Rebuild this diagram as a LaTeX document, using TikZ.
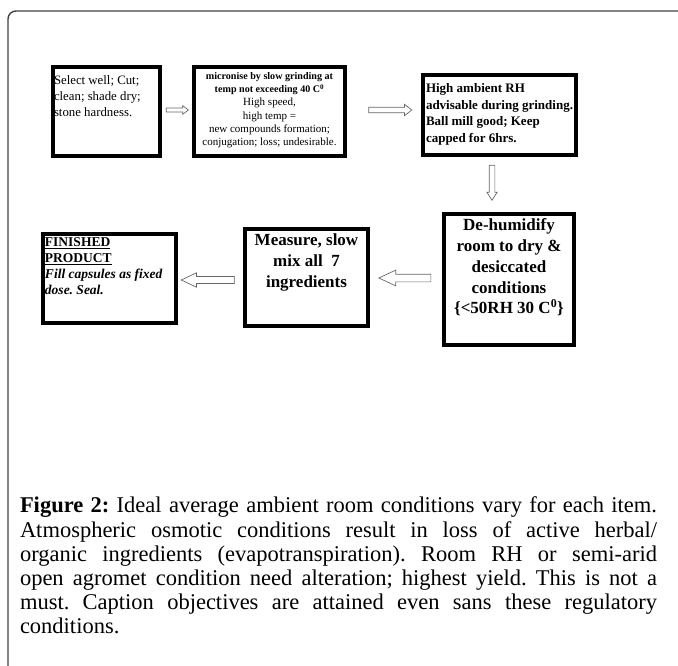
\documentclass[tikz,border=0pt]{standalone}
\usepackage{fontspec}
\setmainfont{Liberation Serif}
\usetikzlibrary{shapes.arrows}
\newcommand{\fsz}[2]{\fontsize{#1}{#2}\selectfont}
\newcommand{\capline}[1]{\hbox to 637pt{#1}}
\frenchspacing
\tikzset{
  box/.style={draw, line width=4pt, inner sep=0pt, outer sep=0pt, fill=white},
  txt/.style={inner sep=0pt, outer sep=0pt},
  barrow/.style={single arrow, draw=black!60, line width=0.7pt, fill=white,
                 inner sep=#1, outer sep=0pt},
  frame/.style={draw=black!75, line width=1.4pt, rounded corners=8pt}
}
\begin{document}
\begin{tikzpicture}[x=1pt,y=-1pt]
\useasboundingbox (0,0) rectangle (678,666);
\clip (0,0) rectangle (678,666);
\draw[frame] (8,11) rectangle (720,720);

% boxes
\node[box, minimum width=107pt, minimum height=89pt] (b1) at (106.5,111.5) {};
\node[box, minimum width=151pt, minimum height=89pt] (b2) at (269.5,111.5) {};
\node[box, minimum width=153pt, minimum height=80pt] (b3) at (499.5,115) {};
\node[box, minimum width=130pt, minimum height=131pt] (b4) at (509,279.5) {};
\node[box, minimum width=123pt, minimum height=97pt] (b5) at (306.5,277.5) {};
\node[box, minimum width=133pt, minimum height=89pt] (b6) at (109.5,278.5) {};

% texts
\node[txt, anchor=north west, align=left, font=\fsz{12.8}{16}] (t1) at (54,75.5)
  {Select well; Cut;\\clean; shade dry;\\stone hardness.};
\node[txt, anchor=north, align=center, font=\fsz{11}{13.2}] (t2) at (269.5,72.5)
  {{\fontsize{10.1}{13.2}\selectfont\bfseries micronise by slow grinding at}\\{\fontsize{10.1}{13.2}\selectfont\bfseries temp not exceeding 40 C\textsuperscript{0}}\\High speed,\\high temp =\\new compounds formation;\\conjugation; loss; undesirable.};
\node[txt, anchor=north west, align=left, font=\fsz{13}{16.7}\bfseries] (t3) at (426,83.5)
  {High ambient RH\\advisable during grinding.\\Ball mill good; Keep\\capped for 6hrs.};
\node[txt, anchor=north, align=center, font=\fsz{17}{20.7}\bfseries] (t4) at (509,219)
  {De-humidify\\room to dry \&\\desiccated\\conditions\\\{<50RH 30 C\textsuperscript{0}\}};
\node[txt, anchor=north, align=center, font=\fsz{17}{21}\bfseries] (t5) at (306.5,234)
  {Measure, slow\\mix all~~7\\ingredients};
\node[txt, anchor=north west, align=left, font=\fsz{13.5}{16}\bfseries] (t6) at (45,237.5)
  {\underline{FINISHED}\\\underline{PRODUCT}\\\textit{Fill capsules as fixed}\\\textit{dose. Seal.}};

% block arrows
\node[barrow=1.7pt, single arrow head extend=2.3pt, single arrow tip angle=75,
      minimum height=22pt] (a1) at (176,110) {};
\node[barrow=2.4pt, single arrow head extend=3pt, single arrow tip angle=76,
      minimum height=43pt] (a2) at (388.5,110) {};
\node[barrow=2.5pt, single arrow head extend=2.2pt, single arrow tip angle=65,
      minimum height=35pt, shape border rotate=270] (a3) at (492,180.5) {};
\node[barrow=3.5pt, single arrow head extend=4pt, single arrow tip angle=50,
      minimum height=52pt, shape border rotate=180] (a4) at (409,278) {};
\node[barrow=3.2pt, single arrow head extend=3.6pt, single arrow tip angle=50,
      minimum height=53pt, shape border rotate=180] (a5) at (211.5,280) {};

% caption
\node[txt, anchor=north west, align=left, font=\fsz{22.5}{24.2}] (cap) at (20,497)
  {\capline{\textbf{Figure 2:} Ideal average ambient room conditions vary for each item.}\\
   \capline{Atmospheric osmotic conditions result in loss of active herbal/}\\
   \capline{organic ingredients (evapotranspiration). Room RH or semi-arid}\\
   \capline{open agromet condition need alteration; highest yield. This is not a}\\
   \capline{must. Caption objectives are attained even sans these regulatory}\\
   conditions.};
\end{tikzpicture}
\end{document}
